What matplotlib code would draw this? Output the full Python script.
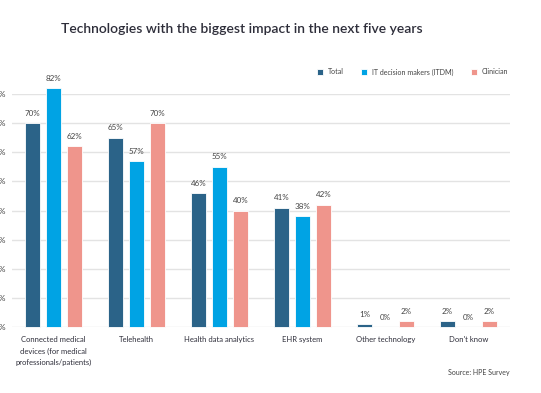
import matplotlib
matplotlib.use("Agg")
import matplotlib.pyplot as plt
import numpy as np

categories = ["Connected medical\ndevices (for medical\nprofessionals/patients)",
              "Telehealth", "Health data analytics", "EHR system",
              "Other technology", "Don't know"]
series_names = ["Total", "IT decision makers (ITDM)", "Clinician"]
total = [70, 65, 46, 41, 1, 2]
itdm = [82, 57, 55, 38, 0, 0]
clinician = [62, 70, 40, 42, 2, 2]
yticks = [0, 10, 20, 30, 40, 50, 60, 70, 80]
colors = ["#2B6388", "#00A3E4", "#EF958C"]

plt.rcParams['font.family'] = ['Lato', 'DejaVu Sans']
text_color = "#2E2E3A"

fig = plt.figure(figsize=(5.41, 3.93), dpi=100)
ax = fig.add_axes([12/541, 1-327/393, (510-12)/541, (327-94)/393])

x = np.arange(len(categories))
w = 0.19
off = 0.253
for i, (vals, c) in enumerate(zip([total, itdm, clinician], colors)):
    pos = x + (i-1)*off
    ax.bar(pos, vals, width=w, color=c, edgecolor="white", linewidth=0.6,
           clip_on=False, zorder=3, label=series_names[i])
    for p, v in zip(pos, vals):
        ax.text(p, v + 2.2, f"{v}%", ha="center", va="bottom", fontsize=5.8,
                color="#444444", clip_on=False)

ax.set_xlim(-0.5, len(categories)-0.5)
ax.set_ylim(0, 80)
ax.set_yticks(yticks)
ax.set_yticklabels([f"{t}%" for t in yticks], fontsize=6, color="#444444")
ax.tick_params(axis='y', length=0, pad=4.3)
ax.set_xticks(x)
ax.set_xticklabels(categories, fontsize=5.5, color=text_color, linespacing=1.72)
ax.tick_params(axis='x', length=0, pad=6.5)
ax.grid(axis='y', color="#E3E3E3", linewidth=1, zorder=0)
for s in ax.spines.values():
    s.set_visible(False)

fig.text(242/541, 1-29/393, "Technologies with the biggest impact in the next five years",
         ha="center", va="center", fontsize=10.0, fontweight="semibold", color=text_color)

leg = fig.legend(loc="center right", bbox_to_anchor=(508/541, 1-72/393), ncol=3,
                 frameon=False, fontsize=5.1, handlelength=0.8, handleheight=0.8,
                 columnspacing=2.5, handletextpad=0.7, borderpad=0, borderaxespad=0)
for t in leg.get_texts():
    t.set_color("#444444")

fig.text(510/541, 1-372/393, "Source: HPE Survey", ha="right", va="center",
         fontsize=5.0, color="#444444")

fig.savefig("out.png", dpi=100)
